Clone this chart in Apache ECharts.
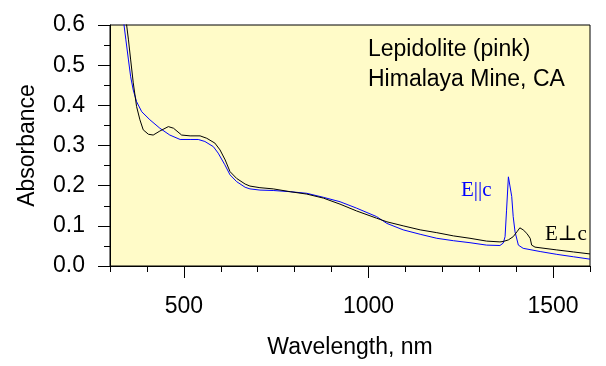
<!DOCTYPE html>
<html>
<head>
<meta charset="utf-8">
<script src="https://cdn.jsdelivr.net/npm/echarts@6/dist/echarts.min.js"></script>
<style>
html,body{margin:0;padding:0;background:#fff;}
#c{width:606px;height:366px;}
</style>
</head>
<body>
<div id="c"></div>
<script>
// E||c (blue) spectrum
var wlPar = [330,338,343,350,356,363,372,386,408,435,462,490,517,539,557,580,593,611,625,643,666,679,706,742,788,833,878,923,968,1022,1050,1094,1140,1185,1230,1275,1320,1356,1365,1370,1374,1379,1383,1388,1392,1397,1406,1419,1465,1510,1555,1600];
var absPar = [0.70,0.600,0.563,0.513,0.471,0.438,0.409,0.384,0.364,0.343,0.326,0.315,0.315,0.315,0.310,0.297,0.281,0.252,0.227,0.210,0.196,0.192,0.189,0.188,0.185,0.181,0.171,0.160,0.144,0.123,0.106,0.090,0.079,0.069,0.063,0.058,0.052,0.051,0.057,0.073,0.139,0.222,0.218,0.173,0.123,0.085,0.052,0.044,0.036,0.029,0.023,0.017];
// E⊥c (black) spectrum
var wlPerp = [338,345,350,356,363,372,381,390,404,417,435,458,472,494,517,544,562,584,598,612,625,643,666,679,706,742,788,833,878,923,968,1022,1050,1094,1140,1185,1230,1275,1320,1356,1365,1379,1392,1402,1410,1419,1429,1438,1442,1451,1510,1555,1600];
var absPerp = [0.70,0.600,0.563,0.513,0.456,0.397,0.364,0.339,0.328,0.326,0.336,0.347,0.343,0.326,0.324,0.324,0.318,0.306,0.289,0.264,0.235,0.218,0.204,0.199,0.195,0.192,0.185,0.179,0.169,0.154,0.137,0.119,0.110,0.100,0.090,0.083,0.075,0.069,0.062,0.060,0.061,0.065,0.073,0.085,0.095,0.090,0.081,0.069,0.052,0.047,0.040,0.035,0.030];
var xMajor = [500, 1000, 1500];

function zip(a, b) { return a.map(function (v, i) { return [v, b[i]]; }); }

var FONT = '"Liberation Sans", Arial, sans-serif';
var FS = 23;
var chart = echarts.init(document.getElementById('c'), null, {renderer: 'canvas'});
chart.setOption({
  animation: false,
  backgroundColor: '#ffffff',
  grid: {left: 110, right: 16, top: 25, bottom: 100, show: true, backgroundColor: '#FFFBC8', borderColor: '#000', borderWidth: 1},
  xAxis: [
    {type: 'value', min: 300, max: 1600, interval: 100, position: 'bottom',
     axisLine: {show: true, lineStyle: {color: '#000', width: 1}},
     axisTick: {show: true, length: 6, lineStyle: {color: '#000'}},
     axisLabel: {show: false}, splitLine: {show: false}},
    {type: 'value', min: 300, max: 1600, position: 'bottom',
     axisLine: {show: false},
     axisTick: {show: true, length: 12, customValues: xMajor, lineStyle: {color: '#000'}},
     axisLabel: {show: true, customValues: xMajor, margin: 29, color: '#000', fontSize: FS, fontFamily: FONT,
       formatter: function (v) { return String(v); }},
     splitLine: {show: false},
     name: 'Wavelength, nm', nameLocation: 'middle', nameGap: 70,
     nameTextStyle: {color: '#000', fontSize: FS, fontFamily: FONT}}
  ],
  yAxis: {type: 'value', min: 0, max: 0.6, interval: 0.1,
    axisLine: {show: true, lineStyle: {color: '#000'}},
    axisTick: {show: true, length: 12, lineStyle: {color: '#000'}},
    minorTick: {show: true, splitNumber: 2, length: 6, lineStyle: {color: '#000'}},
    axisLabel: {formatter: function (v) { return v.toFixed(1); }, margin: 25, color: '#000', fontSize: FS, fontFamily: FONT},
    splitLine: {show: false},
    name: 'Absorbance', nameLocation: 'middle', nameGap: 71, nameRotate: 90,
    nameTextStyle: {color: '#000', fontSize: FS, fontFamily: FONT}},
  series: [
    {type: 'line', name: 'E⊥c', xAxisIndex: 0, data: zip(wlPerp, absPerp), showSymbol: false, symbol: 'none',
     lineStyle: {color: '#000', width: 1}, clip: true, z: 3},
    {type: 'line', name: 'E||c', xAxisIndex: 0, data: zip(wlPar, absPar), showSymbol: false, symbol: 'none',
     lineStyle: {color: '#0000FF', width: 1}, clip: true, z: 2}
  ],
  graphic: [
    {type: 'text', x: 368, y: 50, style: {text: 'Lepidolite (pink)', font: FS + 'px ' + FONT, fill: '#000', textVerticalAlign: 'middle'}},
    {type: 'text', x: 368, y: 80, style: {text: 'Himalaya Mine, CA', font: FS + 'px ' + FONT, fill: '#000', textVerticalAlign: 'middle'}},
    {type: 'text', x: 461, y: 190, style: {text: 'E||c', font: '21px "Liberation Serif", "Times New Roman", serif', fill: '#0000FF', textVerticalAlign: 'middle'}},
    {type: 'text', x: 545, y: 234, style: {text: 'E\u22A5c', font: '21px "Liberation Serif", "DejaVu Serif", serif', fill: '#000', textVerticalAlign: 'middle'}}
  ]
});
</script>
</body>
</html>
